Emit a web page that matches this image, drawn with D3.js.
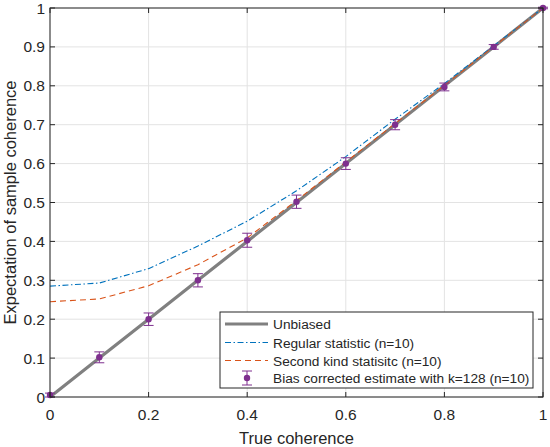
<html>
<head>
<script src="https://d3js.org/d3.v7.min.js"></script>
<style>
  body { margin: 0; background: #fff; }
  text { font-family: "Liberation Sans", Arial, sans-serif; fill: #262626; }
</style>
</head>
<body>
<svg width="550" height="447"></svg>
<script>
// data
const trueCoh = [0, 0.1, 0.2, 0.3, 0.4, 0.5, 0.6, 0.7, 0.8, 0.9, 1];
const regular = [0.285, 0.293, 0.330, 0.388, 0.452, 0.530, 0.618, 0.714, 0.806, 0.903, 1];
const secondKind = [0.245, 0.252, 0.286, 0.340, 0.409, 0.505, 0.604, 0.703, 0.801, 0.901, 1];
const corrected = [0.005, 0.102, 0.200, 0.300, 0.403, 0.502, 0.600, 0.700, 0.797, 0.900, 1.0];
const corrErr = [0.005, 0.014, 0.016, 0.017, 0.018, 0.017, 0.015, 0.013, 0.010, 0.006, 0.002];
const ticks = [0, 0.1, 0.2, 0.3, 0.4, 0.5, 0.6, 0.7, 0.8, 0.9, 1];
const xTicks = [0, 0.2, 0.4, 0.6, 0.8, 1];
const legendLabels = ["Unbiased", "Regular statistic (n=10)", "Second kind statisitc (n=10)", "Bias corrected estimate with k=128 (n=10)"];

const svg = d3.select("svg");
const L = 50, R = 543, T = 8, B = 397;
const x = d3.scaleLinear().domain([0, 1]).range([L, R]);
const y = d3.scaleLinear().domain([0, 1]).range([B, T]);
const axisCol = "#262626";

// grid
svg.append("g").selectAll("line").data(xTicks).enter().append("line")
  .attr("x1", d => x(d)).attr("x2", d => x(d)).attr("y1", T).attr("y2", B)
  .attr("stroke", "#e3e3e3").attr("stroke-width", 1);
svg.append("g").selectAll("line").data(ticks).enter().append("line")
  .attr("y1", d => y(d)).attr("y2", d => y(d)).attr("x1", L).attr("x2", R)
  .attr("stroke", "#e3e3e3").attr("stroke-width", 1);

// lines
const line = d3.line().x((d, i) => x(trueCoh[i])).y(d => y(d));
svg.append("path").datum(trueCoh).attr("d", line)
  .attr("fill", "none").attr("stroke", "#808080").attr("stroke-width", 3.2);
svg.append("path").datum(regular).attr("d", line)
  .attr("fill", "none").attr("stroke", "#0072BD").attr("stroke-width", 1.1)
  .attr("stroke-dasharray", "6,2.5,1.5,2.5");
svg.append("path").datum(secondKind).attr("d", line)
  .attr("fill", "none").attr("stroke", "#D95319").attr("stroke-width", 1.1)
  .attr("stroke-dasharray", "6,4");

// error bars
const purple = "#7E2F8E";
const eb = svg.append("g").attr("stroke", purple).attr("stroke-width", 1);
trueCoh.forEach((t, i) => {
  const cx = x(t), y0 = y(corrected[i] - corrErr[i]), y1 = y(corrected[i] + corrErr[i]);
  eb.append("line").attr("x1", cx).attr("x2", cx).attr("y1", y0).attr("y2", y1);
  eb.append("line").attr("x1", cx - 5).attr("x2", cx + 5).attr("y1", y0).attr("y2", y0);
  eb.append("line").attr("x1", cx - 5).attr("x2", cx + 5).attr("y1", y1).attr("y2", y1);
});
svg.append("g").selectAll("circle").data(corrected).enter().append("circle")
  .attr("cx", (d, i) => x(trueCoh[i])).attr("cy", d => y(d)).attr("r", 3.2)
  .attr("fill", purple);

// axes (box with inward ticks)
const ax = svg.append("g");
ax.append("rect").attr("x", L).attr("y", T).attr("width", R - L).attr("height", B - T)
  .attr("fill", "none").attr("stroke", axisCol).attr("stroke-width", 1);
xTicks.forEach(d => {
  ax.append("line").attr("x1", x(d)).attr("x2", x(d)).attr("y1", B).attr("y2", B - 5).attr("stroke", axisCol);
  ax.append("line").attr("x1", x(d)).attr("x2", x(d)).attr("y1", T).attr("y2", T + 5).attr("stroke", axisCol);
  ax.append("text").attr("x", x(d)).attr("y", 420).attr("text-anchor", "middle")
    .attr("font-size", 15.5).text(d3.format("~g")(d));
});
ticks.forEach(d => {
  ax.append("line").attr("y1", y(d)).attr("y2", y(d)).attr("x1", L).attr("x2", L + 5).attr("stroke", axisCol);
  ax.append("line").attr("y1", y(d)).attr("y2", y(d)).attr("x1", R).attr("x2", R - 5).attr("stroke", axisCol);
  ax.append("text").attr("x", 45).attr("y", y(d) + 5.5).attr("text-anchor", "end")
    .attr("font-size", 15.5).text(d3.format("~g")(d));
});
svg.append("text").attr("x", (L + R) / 2).attr("y", 444).attr("text-anchor", "middle")
  .attr("font-size", 16.5).text("True coherence");
svg.append("text").attr("transform", `translate(16,${(T + B) / 2}) rotate(-90)`)
  .attr("text-anchor", "middle").attr("font-size", 16.5).text("Expectation of sample coherence");

// legend
const lg = svg.append("g");
lg.append("rect").attr("x", 220).attr("y", 312).attr("width", 313).attr("height", 76)
  .attr("fill", "#fff").attr("stroke", axisCol).attr("stroke-width", 1);
const rows = [324, 342.5, 360.5, 378];
lg.append("line").attr("x1", 225).attr("x2", 268).attr("y1", rows[0]).attr("y2", rows[0])
  .attr("stroke", "#808080").attr("stroke-width", 3.2);
lg.append("line").attr("x1", 225).attr("x2", 268).attr("y1", rows[1]).attr("y2", rows[1])
  .attr("stroke", "#0072BD").attr("stroke-width", 1.1).attr("stroke-dasharray", "6,2.5,1.5,2.5");
lg.append("line").attr("x1", 225).attr("x2", 268).attr("y1", rows[2]).attr("y2", rows[2])
  .attr("stroke", "#D95319").attr("stroke-width", 1.1).attr("stroke-dasharray", "6,4");
const ly = rows[3];
lg.append("line").attr("x1", 247).attr("x2", 247).attr("y1", ly - 7).attr("y2", ly + 7).attr("stroke", purple);
lg.append("line").attr("x1", 242).attr("x2", 252).attr("y1", ly - 7).attr("y2", ly - 7).attr("stroke", purple);
lg.append("line").attr("x1", 242).attr("x2", 252).attr("y1", ly + 7).attr("y2", ly + 7).attr("stroke", purple);
lg.append("circle").attr("cx", 247).attr("cy", ly).attr("r", 3.2).attr("fill", purple);
lg.selectAll("text.lab").data(legendLabels).enter().append("text")
  .attr("x", 273).attr("y", (d, i) => rows[i] + 5).attr("font-size", 13.7)
  .text(d => d);
</script>
</body>
</html>
